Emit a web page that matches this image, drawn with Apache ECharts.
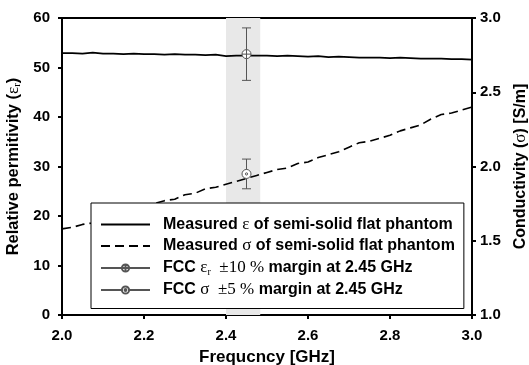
<!DOCTYPE html>
<html>
<head>
<meta charset="utf-8">
<script src="https://cdn.jsdelivr.net/npm/echarts@6/dist/echarts.min.js"></script>
<style>
html, body { margin: 0; padding: 0; background: #fff; }
#chart { width: 529px; height: 365px; }
</style>
</head>
<body>
<div id="chart"></div>
<script>
// frequency points [GHz]
const freqs = [2.000, 2.025, 2.050, 2.075, 2.100, 2.125, 2.150, 2.175, 2.200, 2.225,
  2.250, 2.275, 2.300, 2.325, 2.350, 2.375, 2.400, 2.425, 2.450, 2.475,
  2.500, 2.525, 2.550, 2.575, 2.600, 2.625, 2.650, 2.675, 2.700, 2.725,
  2.750, 2.775, 2.800, 2.825, 2.850, 2.875, 2.900, 2.925, 2.950, 2.975, 3.000]
// measured relative permittivity
const epsValues = [52.9, 52.9, 52.8, 53.0, 52.8, 52.8, 52.7, 52.8, 52.7, 52.7,
  52.6, 52.7, 52.6, 52.6, 52.5, 52.6, 52.3, 52.4, 52.4, 52.4,
  52.4, 52.3, 52.4, 52.3, 52.2, 52.3, 52.1, 52.2, 52.1, 52.0,
  52.0, 52.0, 51.9, 52.0, 51.9, 51.8, 51.8, 51.8, 51.7, 51.7, 51.6]
// measured conductivity [S/m]
const sigValues = [1.58, 1.59, 1.61, 1.62, 1.64, 1.66, 1.68, 1.70, 1.73, 1.75,
  1.77, 1.78, 1.81, 1.82, 1.85, 1.86, 1.88, 1.90, 1.92, 1.94,
  1.96, 1.98, 1.99, 2.02, 2.03, 2.06, 2.08, 2.10, 2.13, 2.16,
  2.17, 2.19, 2.21, 2.24, 2.26, 2.28, 2.32, 2.35, 2.36, 2.38, 2.40]
// FCC targets at 2.45 GHz: [low, target, high]
const fccFreq = 2.45
const fccEps = [47.4, 52.7, 58.0]
const fccSig = [1.85, 1.95, 2.05]
// ISM band shading
const ismBand = [2.4, 2.4835]

const xTicks = { min: 2.0, max: 3.0, interval: 0.2 }

const black = '#000'
const grey = '#555'
const font = 'Liberation Sans'
const serif = 'Liberation Serif'

const capSymbol = 'path://M0,0 L10,0 L10,1 L0,1 Z'
const crossCircle = 'path://M0,-10 A10,10 0 1,1 0,10 A10,10 0 1,1 0,-10 Z M0,-10 L0,10 M-10,0 L10,0'
const dotCircle = 'path://M0,-10 A10,10 0 1,1 0,10 A10,10 0 1,1 0,-10 Z M0,-2.5 A2.5,2.5 0 1,1 0,2.5 A2.5,2.5 0 1,1 0,-2.5 Z'

function errorData(vals, sym) {
  return [
    { value: [fccFreq, vals[0]], symbol: capSymbol, symbolSize: [9, 1], itemStyle: { color: grey, borderWidth: 0 } },
    { value: [fccFreq, vals[1]], symbol: sym, symbolSize: 9 },
    { value: [fccFreq, vals[2]], symbol: capSymbol, symbolSize: [9, 1], itemStyle: { color: grey, borderWidth: 0 } },
  ]
}

const legendText = {
  eps: '{b|Measured }{g|ε}{b| of semi-solid flat phantom}',
  sig: '{b|Measured }{g|σ}{b| of semi-solid flat phantom}',
  fccEps: '{b|FCC }{g|ε}{s|r}{g|  ±10 %}{b| margin at 2.45 GHz}',
  fccSig: '{b|FCC }{g|σ  ±5 %}{b| margin at 2.45 GHz}',
}
const hideSymbol = { color: 'rgba(0,0,0,0)', borderColor: 'rgba(0,0,0,0)', borderWidth: 0, opacity: 0 }

const chart = echarts.init(document.getElementById('chart'))
chart.setOption({
  animation: false,
  backgroundColor: '#fff',
  grid: {
    left: 62, right: 57, top: 18, bottom: 50,
    outerBoundsMode: 'none',
    containLabel: false,
    show: true, borderColor: black, borderWidth: 2,
  },
  xAxis: {
    type: 'value',
    min: xTicks.min, max: xTicks.max, interval: xTicks.interval,
    name: 'Frequcncy [GHz]',
    nameLocation: 'middle',
    nameGap: 34,
    nameTextStyle: { color: black, fontFamily: font, fontWeight: 'bold', fontSize: 17 },
    axisLine: { lineStyle: { color: black, width: 2 } },
    axisTick: { length: 4, lineStyle: { color: black, width: 2 } },
    axisLabel: { color: black, fontFamily: font, fontWeight: 'bold', fontSize: 15, margin: 13,
      formatter: v => v.toFixed(1) },
    splitLine: { show: false },
  },
  yAxis: [
    {
      type: 'value',
      min: 0, max: 60, interval: 10,
      name: '{n|Relative permitivity (}{g|ε}{s|r}{n|)}',
      nameLocation: 'middle',
      nameGap: 34,
      nameRotate: 90,
      nameTextStyle: {
        rich: {
          n: { color: black, fontFamily: font, fontWeight: 'bold', fontSize: 16.5 },
          g: { color: black, fontFamily: serif, fontSize: 17 },
          s: { color: black, fontFamily: serif, fontSize: 11, padding: [7, 0, 0, 0] },
        },
      },
      axisLine: { show: true, lineStyle: { color: black, width: 2 } },
      axisTick: { show: true, length: 4, lineStyle: { color: black, width: 2 } },
      axisLabel: { color: black, fontFamily: font, fontWeight: 'bold', fontSize: 15, margin: 12 },
      splitLine: { show: false },
    },
    {
      type: 'value',
      min: 1.0, max: 3.0, interval: 0.5,
      name: '{n|Conductivity (}{g|σ}{n|) [S/m]}',
      nameLocation: 'middle',
      nameGap: 38,
      nameRotate: 90,
      nameTextStyle: {
        rich: {
          n: { color: black, fontFamily: font, fontWeight: 'bold', fontSize: 16 },
          g: { color: black, fontFamily: serif, fontSize: 17 },
        },
      },
      axisLine: { show: true, lineStyle: { color: black, width: 2 } },
      axisTick: { show: true, length: 4, lineStyle: { color: black, width: 2 } },
      axisLabel: { color: black, fontFamily: font, fontWeight: 'bold', fontSize: 15, margin: 8,
        formatter: v => v.toFixed(1) },
      splitLine: { show: false },
    },
  ],
  legend: {
    orient: 'vertical',
    left: 91, top: 203,
    z: 10,
    backgroundColor: '#fff',
    borderColor: black,
    borderWidth: 1,
    borderRadius: 0,
    padding: [13, 9, 10, 9],
    itemWidth: 49,
    itemHeight: 9,
    itemGap: 4.5,
    data: [
      { name: 'eps', itemStyle: hideSymbol },
      { name: 'sig', itemStyle: hideSymbol },
      { name: 'fccEps' },
      { name: 'fccSig' },
    ],
    formatter: name => legendText[name],
    textStyle: {
      padding: [0, 0, 0, 8],
      rich: {
        b: { color: black, fontFamily: font, fontWeight: 'bold', fontSize: 16, lineHeight: 22 },
        g: { color: black, fontFamily: serif, fontSize: 17, lineHeight: 22 },
        s: { color: black, fontFamily: serif, fontSize: 10, lineHeight: 22, padding: [8, 0, 0, 0] },
      },
    },
  },
  series: [
    {
      name: 'eps',
      type: 'line',
      data: freqs.map((f, i) => [f, epsValues[i]]),
      symbol: 'none',
      lineStyle: { color: black, width: 1.6 },
      itemStyle: { color: black },
      markArea: {
        silent: true,
        itemStyle: { color: '#e8e8e8' },
        data: [[{ xAxis: ismBand[0] }, { xAxis: ismBand[1] }]],
      },
      z: 3,
    },
    {
      name: 'sig',
      type: 'line',
      yAxisIndex: 1,
      data: freqs.map((f, i) => [f, sigValues[i]]),
      symbol: 'none',
      lineStyle: { color: black, width: 1.6, type: [9, 5] },
      itemStyle: { color: black },
      z: 3,
    },
    {
      name: 'fccEps',
      type: 'line',
      data: errorData(fccEps, crossCircle),
      symbol: crossCircle,
      symbolSize: 9,
      lineStyle: { color: grey, width: 1 },
      itemStyle: { color: '#fff', borderColor: grey, borderWidth: 1 },
      z: 4,
    },
    {
      name: 'fccSig',
      type: 'line',
      yAxisIndex: 1,
      data: errorData(fccSig, dotCircle),
      symbol: dotCircle,
      symbolSize: 9,
      lineStyle: { color: grey, width: 1 },
      itemStyle: { color: '#fff', borderColor: grey, borderWidth: 1 },
      z: 4,
    },
  ],
})
</script>
</body>
</html>
